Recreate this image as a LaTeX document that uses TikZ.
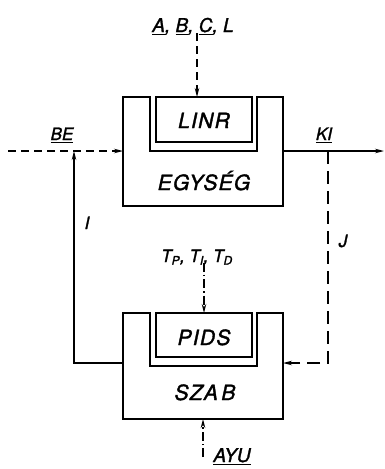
\documentclass[tikz,border=0pt]{standalone}
\usepackage{fontspec}
\setmainfont{TeX Gyre Heros}[FakeBold=1.6]
\usetikzlibrary{arrows.meta}

% thick underline for signal names
\newcommand{\ulbar}[1]{\vtop{\hbox{#1}\kern1.6pt\hrule height 1.3pt}}

\begin{document}
\begin{tikzpicture}[x=1pt, y=-1pt, line width=1.3pt,
    sig/.style={-{Stealth[length=9pt, width=4.5pt]}},
    dsig/.style={sig, dash pattern=on 8pt off 5pt},
    jsig/.style={sig, dash pattern=on 13pt off 7pt},
    dotsig/.style={sig, dash pattern=on 9pt off 3pt on 1.5pt off 3pt},
    blk/.style={anchor=base, font=\itshape\fontsize{21}{21}\selectfont\addfontfeature{LetterSpace=6}},
    lbl/.style={anchor=base, font=\itshape\fontsize{17}{17}\selectfont}]

  \useasboundingbox (0,0) rectangle (384,469);

  % ───────── Upper block (EGYSÉG with LINR) ─────────
  \draw[line width=1.5pt]
    (123,97) -- (150,97) -- (150,151) -- (257,151) -- (257,97)
    -- (283,97) -- (283,206) -- (123,206) -- cycle;
  \draw[line width=1.5pt] (156,97) rectangle (252,142);
  \node[blk] (linr) at (204,128) {LINR};
  \node[blk] (egyseg) at (204,190) {EGYSÉG};

  % ───────── Lower block (SZAB with PIDS) ─────────
  \draw[line width=1.5pt]
    (123,313) -- (150,313) -- (150,366) -- (257,366) -- (257,313)
    -- (283,313) -- (283,419) -- (123,419) -- cycle;
  \draw[line width=1.5pt] (156,313) rectangle (252,357);
  \node[blk] (pids) at (204,345) {PIDS};
  \node[blk] (szab) at (205,400) {SZA\,B};

  % ───────── Ports ─────────
  \coordinate (e-top) at (197,97);
  \coordinate (e-in) at (123,151);
  \coordinate (e-out) at (283,151);
  \coordinate (s-top) at (204,313);
  \coordinate (s-bot) at (203,419);
  \coordinate (s-left) at (123,363);
  \coordinate (s-right) at (283,363);
  \coordinate (be-start) at (8,151);
  \coordinate (ki-end) at (384,151);
  \coordinate (i-corner) at (74,363);
  \coordinate (i-top) at (74,151);
  \coordinate (j-top) at (328,151);
  \coordinate (j-corner) at (328,363);
  \coordinate (ayu-start) at (203,457);

  % ───────── Signal labels ─────────
  \node[lbl, font=\itshape\fontsize{19}{19}\selectfont] (abcl) at (193,32)
    {\ulbar{A}, \ulbar{B}, \ulbar{C}, L};
  \node[lbl] (be) at (62,140) {\ulbar{BE}};
  \node[lbl] (ki) at (324,140) {\ulbar{KI}};
  \node[lbl] (ilbl) at (87,229) {I};
  \node[lbl] (jlbl) at (343,247) {J};
  \node[lbl] (tpid) at (197,262)
    {T\textsubscript{P}, T\textsubscript{I}, T\textsubscript{D}};
  \node[lbl, font=\itshape\fontsize{19}{19}\selectfont] (ayu) at (232,462)
    {\ulbar{AYU}};

  % ───────── Connectors ─────────
  \draw[dsig] (abcl.south -| e-top) ++(0,6pt) -- (e-top);
  \draw[dsig] (be-start) -- (e-in);
  \draw[sig] (e-out) -- (ki-end);
  \draw[jsig] (j-top) -- (j-corner) -- (s-right);
  \draw[sig] (s-left) -- (i-corner) -- (i-top);
  \draw[dotsig] (tpid.south -| s-top) ++(0,6pt) -- (s-top);
  \draw[dotsig] (ayu-start) -- (s-bot);

\end{tikzpicture}
\end{document}
